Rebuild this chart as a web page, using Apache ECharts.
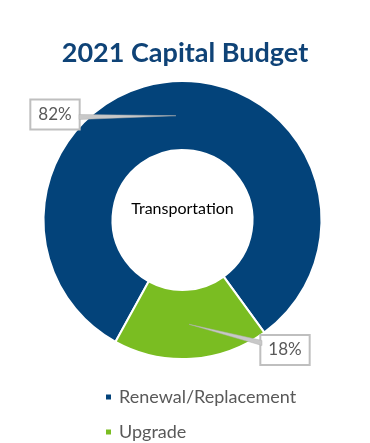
<!DOCTYPE html>
<html>
<head>
<meta charset="utf-8">
<script src="https://cdn.jsdelivr.net/npm/echarts@6/dist/echarts.min.js"></script>
<style>
html,body{margin:0;padding:0;background:#fff;}
#chart{width:370px;height:443px;}
</style>
</head>
<body>
<div id="chart"></div>
<script>
const titleText = '2021 Capital Budget';
const centerText = 'Transportation';
const categories = ['Renewal/Replacement', 'Upgrade'];
const values = [82, 18];
const colors = ['#03437A', '#7ABD22'];

const FONT = 'Lato';
const CX = 182.5, CY = 220, R_IN = 70, R_OUT = 139;
const START = -118.8;
// label box centres and leader attach points (box edge)
const labelPos = [[55, 114.5], [285, 350]];
const labelAttach = [[79, 117], [262, 343]];

const total = values.reduce((a, b) => a + b, 0);
function midPoint(i) {
  let cum = 0;
  for (let k = 0; k < i; k++) cum += values[k];
  const m = (START - (cum + values[i] / 2) * 360 / total) * Math.PI / 180;
  const r = (R_IN + R_OUT) / 2;
  return [CX + r * Math.cos(m), CY - r * Math.sin(m)];
}
function wedge(i) {
  const p = midPoint(i), a = labelAttach[i];
  return {
    type: 'polygon', z: 100,
    shape: {points: [p, [a[0], a[1] - 2.5], [a[0], a[1] + 2.5]]},
    style: {fill: '#C8C8C8', stroke: '#B0B0B0', lineWidth: 0.5}
  };
}

const chart = echarts.init(document.getElementById('chart'), null, {renderer: 'canvas'});
chart.setOption({
  animation: false,
  backgroundColor: '#fff',
  title: {
    text: titleText,
    left: 'center',
    top: 35,
    textStyle: {fontFamily: FONT, fontWeight: 'bold', fontSize: 27, color: '#0F4377'}
  },
  graphic: [{
    type: 'text', z: 100,
    x: CX, y: 209,
    style: {text: centerText, textAlign: 'center', textVerticalAlign: 'middle',
            font: '16px ' + FONT, fill: '#000'}
  }, wedge(0), wedge(1)],
  legend: {
    orient: 'vertical',
    left: 104,
    top: 388,
    padding: 0,
    icon: 'rect',
    itemWidth: 7,
    itemHeight: 7,
    itemGap: 17,
    data: categories,
    textStyle: {fontFamily: FONT, fontSize: 18, color: '#595959', lineHeight: 18, padding: [0, 0, 0, 2]}
  },
  series: [{
    type: 'pie',
    z: 2,
    center: [CX, CY],
    radius: [R_IN, R_OUT],
    startAngle: START,
    clockwise: true,
    avoidLabelOverlap: false,
    itemStyle: {borderColor: '#fff', borderWidth: 2},
    label: {
      show: true,
      position: 'outside',
      formatter: '{c}%',
      fontFamily: FONT,
      fontSize: 17,
      color: '#595959',
      backgroundColor: '#fff',
      borderColor: '#BFBFBF',
      borderWidth: 2,
      padding: [6, 7, 5, 7]
    },
    labelLine: {show: false},
    labelLayout: function (p) {
      const i = p.dataIndex;
      return {x: labelPos[i][0], y: labelPos[i][1], align: 'center', verticalAlign: 'middle'};
    },
    emphasis: {disabled: true},
    data: categories.map((c, i) => ({name: c, value: values[i], itemStyle: {color: colors[i]}}))
  }]
});
</script>
</body>
</html>
